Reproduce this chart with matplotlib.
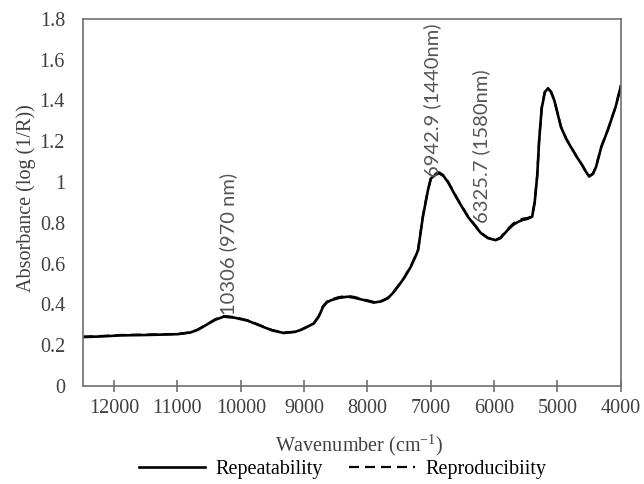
import numpy as np
import matplotlib
matplotlib.use("Agg")
import matplotlib.pyplot as plt
from matplotlib.ticker import MultipleLocator

# wavenumber (cm-1) and absorbance
wavenumber = [12490, 12200, 11900, 11500, 11000, 10800, 10680, 10520, 10400, 10270,
              10100, 9890, 9680, 9500, 9320, 9150, 9050, 8950, 8845, 8770,
              8700, 8640, 8580, 8450, 8310, 8200, 8105, 7900, 7780, 7680,
              7600, 7520, 7420, 7315, 7235, 7200, 7125, 7045, 6997, 6930,
              6870, 6800, 6730, 6650, 6570, 6415, 6300, 6210, 6100, 5975,
              5900, 5785, 5700, 5620, 5550, 5470, 5400, 5360, 5320, 5290,
              5250, 5200, 5150, 5100, 5050, 4945, 4860, 4785, 4700, 4625,
              4560, 4500, 4440, 4390, 4310, 4205, 4080, 4000]
repeatability = [0.240, 0.243, 0.248, 0.250, 0.254, 0.262, 0.275, 0.304, 0.325, 0.340,
                 0.335, 0.320, 0.294, 0.272, 0.260, 0.265, 0.275, 0.290, 0.307, 0.340,
                 0.389, 0.410, 0.420, 0.432, 0.438, 0.432, 0.425, 0.409, 0.415, 0.430,
                 0.455, 0.487, 0.530, 0.585, 0.640, 0.667, 0.830, 0.960, 1.018, 1.035,
                 1.043, 1.030, 1.000, 0.955, 0.910, 0.830, 0.785, 0.750, 0.725, 0.715,
                 0.725, 0.765, 0.790, 0.805, 0.814, 0.820, 0.830, 0.900, 1.030, 1.200,
                 1.360, 1.440, 1.460, 1.440, 1.400, 1.270, 1.210, 1.170, 1.125, 1.090,
                 1.055, 1.027, 1.040, 1.075, 1.170, 1.255, 1.370, 1.470]
reproducibility = [0.242, 0.245, 0.250, 0.252, 0.255, 0.263, 0.277, 0.306, 0.328, 0.343,
                   0.338, 0.322, 0.296, 0.274, 0.262, 0.266, 0.276, 0.291, 0.309, 0.343,
                   0.392, 0.414, 0.424, 0.436, 0.442, 0.436, 0.428, 0.412, 0.417, 0.432,
                   0.457, 0.489, 0.532, 0.588, 0.643, 0.670, 0.833, 0.963, 1.022, 1.040,
                   1.048, 1.034, 1.003, 0.958, 0.913, 0.833, 0.788, 0.752, 0.727, 0.717,
                   0.728, 0.770, 0.796, 0.812, 0.820, 0.824, 0.833, 0.903, 1.033, 1.203,
                   1.363, 1.443, 1.462, 1.442, 1.402, 1.272, 1.212, 1.172, 1.127, 1.092,
                   1.057, 1.029, 1.042, 1.078, 1.172, 1.257, 1.372, 1.472]

peak_labels = ["10306 (970 nm)", "6942.9 (1440nm)", "6325.7 (1580nm)"]
peak_x = [10200, 6985, 6200]
peak_y = [0.35, 1.025, 0.80]

serif = ["Liberation Serif", "DejaVu Serif"]
grey = "#404040"
fs = 14.5

fig = plt.figure(figsize=(6.44, 4.84), dpi=100)
ax = fig.add_axes([0.129, 0.2025, 0.835, 0.7585])

ax.plot(wavenumber, repeatability, color="black", lw=1.9, label="Repeatability")
ax.plot(wavenumber, reproducibility, color="black", lw=1.6, ls=(0, (4.5, 2.7)),
        label="Reproducibiity")

for lab, px, py in zip(peak_labels, peak_x, peak_y):
    ax.text(px, py, lab, rotation=90, ha="center", va="bottom",
            fontsize=14.5, family=["Lato", "DejaVu Sans"], color="#555555")

ax.set_xlim(12490, 4000)
ax.set_ylim(0, 1.8)
ax.xaxis.set_major_locator(MultipleLocator(1000))
ax.set_yticks(np.arange(0, 1.81, 0.2))
ax.set_yticklabels(["0", "0.2", "0.4", "0.6", "0.8", "1", "1.2", "1.4", "1.6", "1.8"])

for sp in ax.spines.values():
    sp.set_color("#707070")
    sp.set_linewidth(1.2)
ax.tick_params(axis="x", direction="inout", length=9, width=1.2, color="#707070",
               pad=5, labelsize=fs, labelcolor=grey)
ax.tick_params(axis="y", length=0, pad=13, labelsize=fs, labelcolor=grey)
for t in ax.get_xticklabels() + ax.get_yticklabels():
    t.set_family(serif)

ax.set_xlabel("Wavenumber (cm$^{\\mathregular{-1}}$)", family=serif, fontsize=fs,
              color=grey, va="center")
ax.xaxis.set_label_coords(0.513, -0.162)
ax.set_ylabel("Absorbance (log (1/R))", family=serif, fontsize=fs, color=grey,
              va="center")
ax.yaxis.set_label_coords(-0.106, 0.512)

fig.legend(loc="center", bbox_to_anchor=(0.532, 0.03), ncol=2, frameon=False,
           handlelength=3.3, columnspacing=1.3, handletextpad=0.5,
           prop={"family": serif, "size": fs})

fig.savefig("out.png", dpi=100)
